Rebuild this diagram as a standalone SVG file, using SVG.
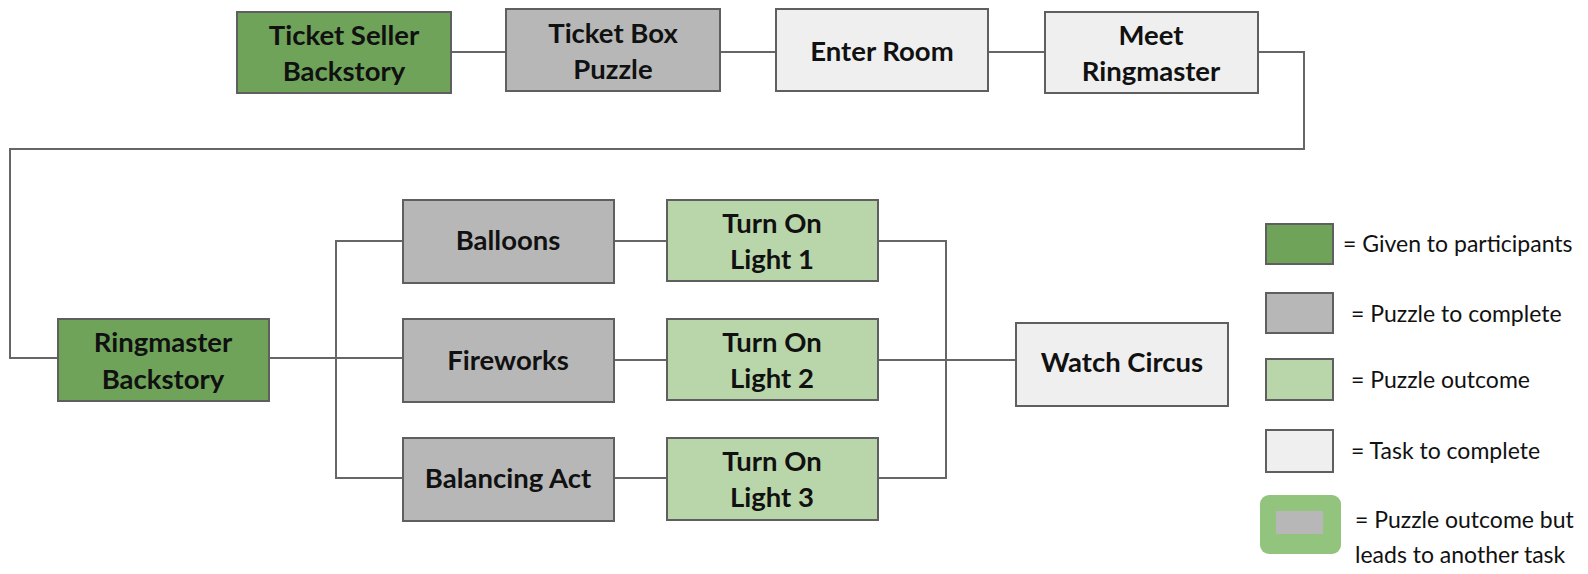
<svg xmlns="http://www.w3.org/2000/svg" width="1588" height="574" viewBox="0 0 1588 574">
  <style>
    .box { stroke: #5f5f5f; stroke-width: 2; }
    .given { fill: #6fa35a; }
    .puzzle { fill: #b7b7b7; }
    .outcome { fill: #b9d6aa; }
    .task { fill: #efefef; }
    .label { font-family: Lato, "Liberation Sans", sans-serif; font-weight: bold; font-size: 27.5px; fill: #111; text-anchor: middle; }
    .key { font-family: Lato, "Liberation Sans", sans-serif; font-size: 23px; fill: #111; }
    .wire { fill: none; stroke: #666; stroke-width: 2; }
  </style>
  <rect width="1588" height="574" fill="#fff"/>

  <!-- connectors -->
  <g id="connectors">
    <path class="wire" d="M451 52 H506"/>
    <path class="wire" d="M720 52 H776"/>
    <path class="wire" d="M988 52 H1045"/>
    <path class="wire" d="M1258 52 H1304 V149 H10 V358 H58"/>
    <path class="wire" d="M269 358 H403"/>
    <path class="wire" d="M403 241 H336 V478 H403"/>
    <path class="wire" d="M614 241 H667"/>
    <path class="wire" d="M614 360 H667"/>
    <path class="wire" d="M614 478 H667"/>
    <path class="wire" d="M878 241 H946 V478 H878"/>
    <path class="wire" d="M878 360 H1016"/>
  </g>

  <!-- top row -->
  <g id="ticket-seller">
    <rect class="box given" x="237" y="12" width="214" height="81"/>
    <text class="label" x="344" y="45">Ticket Seller</text>
    <text class="label" x="344" y="81">Backstory</text>
  </g>
  <g id="ticket-box">
    <rect class="box puzzle" x="506" y="9" width="214" height="82"/>
    <text class="label" x="613" y="43">Ticket Box</text>
    <text class="label" x="613" y="79">Puzzle</text>
  </g>
  <g id="enter-room">
    <rect class="box task" x="776" y="9" width="212" height="82"/>
    <text class="label" x="882" y="61">Enter Room</text>
  </g>
  <g id="meet-ringmaster">
    <rect class="box task" x="1045" y="12" width="213" height="81"/>
    <text class="label" x="1151" y="45">Meet</text>
    <text class="label" x="1151" y="81">Ringmaster</text>
  </g>

  <!-- middle section -->
  <g id="ringmaster-backstory">
    <rect class="box given" x="58" y="319" width="211" height="82"/>
    <text class="label" x="163" y="352">Ringmaster</text>
    <text class="label" x="163" y="389">Backstory</text>
  </g>
  <g id="balloons">
    <rect class="box puzzle" x="403" y="200" width="211" height="83"/>
    <text class="label" x="508" y="250">Balloons</text>
  </g>
  <g id="fireworks">
    <rect class="box puzzle" x="403" y="319" width="211" height="83"/>
    <text class="label" x="508" y="370">Fireworks</text>
  </g>
  <g id="balancing-act">
    <rect class="box puzzle" x="403" y="438" width="211" height="83"/>
    <text class="label" x="508" y="488">Balancing Act</text>
  </g>
  <g id="light-1">
    <rect class="box outcome" x="667" y="200" width="211" height="81"/>
    <text class="label" x="772" y="233">Turn On</text>
    <text class="label" x="772" y="269">Light 1</text>
  </g>
  <g id="light-2">
    <rect class="box outcome" x="667" y="319" width="211" height="81"/>
    <text class="label" x="772" y="352">Turn On</text>
    <text class="label" x="772" y="388">Light 2</text>
  </g>
  <g id="light-3">
    <rect class="box outcome" x="667" y="438" width="211" height="82"/>
    <text class="label" x="772" y="471">Turn On</text>
    <text class="label" x="772" y="507">Light 3</text>
  </g>
  <g id="watch-circus">
    <rect class="box task" x="1016" y="323" width="212" height="83"/>
    <text class="label" x="1122" y="372">Watch Circus</text>
  </g>

  <!-- legend -->
  <g id="legend">
    <rect class="box given" x="1266" y="224" width="67" height="40"/>
    <text class="key" x="1343" y="252">= Given to participants</text>
    <rect class="box puzzle" x="1266" y="293" width="67" height="40"/>
    <text class="key" x="1351" y="322">= Puzzle to complete</text>
    <rect class="box outcome" x="1266" y="359" width="67" height="41"/>
    <text class="key" x="1351" y="388">= Puzzle outcome</text>
    <rect class="box task" x="1266" y="430" width="67" height="42"/>
    <text class="key" x="1351" y="459">= Task to complete</text>
    <rect x="1260" y="495" width="81" height="59" rx="9" fill="#93c47d"/>
    <rect x="1276" y="511" width="47" height="23" fill="#b7b7b7"/>
    <text class="key" x="1355" y="528">= Puzzle outcome but</text>
    <text class="key" x="1355" y="563">leads to another task</text>
  </g>
</svg>
